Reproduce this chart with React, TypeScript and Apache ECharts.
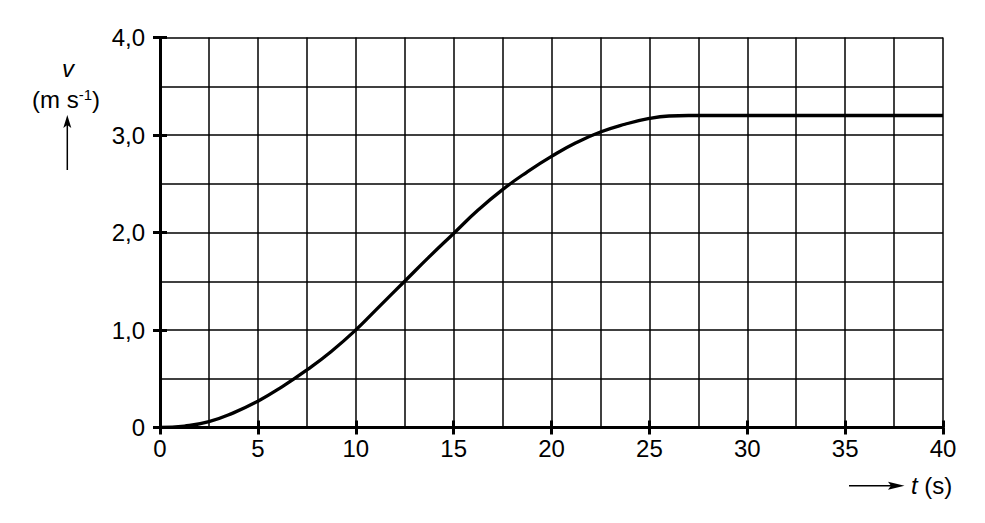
import { useEffect, useRef } from 'react';
import * as echarts from 'echarts';

// t (s) and v (m s^-1)
const tValues = [0, 1.25, 2.5, 3.75, 5, 6.25, 7.5, 8.75, 10, 11.25, 12.5, 13.75, 15, 16.25, 17.5, 18.75, 20, 21.25, 22.5, 23.75, 25, 26, 27, 30, 35, 40];
const vValues = [0, 0.015, 0.06, 0.15, 0.27, 0.42, 0.59, 0.78, 1.0, 1.25, 1.5, 1.75, 1.99, 2.23, 2.44, 2.62, 2.78, 2.92, 3.03, 3.11, 3.17, 3.195, 3.2, 3.2, 3.2, 3.2];

const xMax = 40;
const yMax = 4;
const xGridStep = 2.5;
const xLabelStep = 5;
const yGridStep = 0.5;
const yLabelStep = 1;

const FONT = 'Liberation Sans, Arial, sans-serif';

export default function App() {
  const chartRef = useRef<HTMLDivElement>(null);

  useEffect(() => {
    if (!chartRef.current) return;
    const chart = echarts.init(chartRef.current, undefined, { renderer: 'svg' });

    const gridAxis = (interval: number, max: number, position: string) => ({
      type: 'value',
      min: 0,
      max,
      interval,
      position,
      axisLine: { show: false },
      axisTick: { show: false },
      axisLabel: { show: false },
      splitLine: { show: true, lineStyle: { color: '#000', width: 1.5 } },
    });

    const tickAxis = (interval: number, max: number, position: string, inside: boolean, fmt: (v: number) => string, margin: number) => ({
      type: 'value',
      min: 0,
      max,
      interval,
      position,
      axisLine: { show: !inside, onZero: false, lineStyle: { color: '#000', width: 3 } },
      axisTick: { show: true, inside, length: 7, lineStyle: { color: '#000', width: 3 } },
      axisLabel: {
        show: !inside,
        margin,
        color: '#000',
        fontSize: 24,
        fontFamily: FONT,
        formatter: fmt,
      },
      splitLine: { show: false },
    });

    const fmtX = (v: number) => String(v);
    const fmtY = (v: number) => (v === 0 ? '0' : v.toFixed(1).replace('.', ','));

    chart.setOption({
      animation: false,
      grid: { left: 160, right: 42, top: 37.5, bottom: 95.5 },
      xAxis: [
        gridAxis(xGridStep, xMax, 'bottom'),
        tickAxis(xLabelStep, xMax, 'bottom', false, fmtX, 9),
        tickAxis(xLabelStep, xMax, 'bottom', true, fmtX, 9),
      ],
      yAxis: [
        gridAxis(yGridStep, yMax, 'left'),
        tickAxis(yLabelStep, yMax, 'left', false, fmtY, 15),
        tickAxis(yLabelStep, yMax, 'left', true, fmtY, 15),
      ],
      series: [
        {
          type: 'line',
          xAxisIndex: 0,
          yAxisIndex: 0,
          data: tValues.map((t, i) => [t, vValues[i]]),
          smooth: 0.5,
          showSymbol: false,
          lineStyle: { color: '#000', width: 3.3 },
          z: 5,
        },
      ],
      graphic: [
        {
          type: 'text',
          x: 68,
          y: 68,
          style: {
            text: 'v',
            font: `italic 24px ${FONT}`,
            fill: '#000',
            align: 'center',
            verticalAlign: 'middle',
          },
        },
        {
          type: 'text',
          x: 66,
          y: 99,
          style: {
            text: '(m s{sup|-1})',
            font: `24px ${FONT}`,
            fill: '#000',
            align: 'center',
            verticalAlign: 'middle',
            rich: {
              sup: { fontSize: 15, fontFamily: FONT, verticalAlign: 'top', padding: [0, 0, 9, 0] },
            },
          },
        },
        {
          type: 'line',
          shape: { x1: 67.3, y1: 170, x2: 67.3, y2: 124 },
          style: { stroke: '#000', lineWidth: 1.5 },
        },
        {
          type: 'polygon',
          shape: { points: [[67.3, 115], [63.3, 128], [67.3, 125], [71.3, 128]] },
          style: { fill: '#000' },
        },
        {
          type: 'line',
          shape: { x1: 849, y1: 485.7, x2: 896, y2: 485.7 },
          style: { stroke: '#000', lineWidth: 1.5 },
        },
        {
          type: 'polygon',
          shape: { points: [[904.5, 485.7], [888, 481.7], [891, 485.7], [888, 489.7]] },
          style: { fill: '#000' },
        },
        {
          type: 'text',
          x: 911,
          y: 485,
          style: {
            text: '{it|t} (s)',
            font: `24px ${FONT}`,
            fill: '#000',
            align: 'left',
            verticalAlign: 'middle',
            rich: {
              it: { fontStyle: 'italic', fontSize: 24, fontFamily: FONT },
            },
          },
        },
      ],
    });

    return () => {
      chart.dispose();
    };
  }, []);

  return (
    <div
      ref={chartRef}
      style={{ position: 'fixed', left: 0, top: 0, width: 985, height: 523, background: '#fff' }}
    />
  );
}
